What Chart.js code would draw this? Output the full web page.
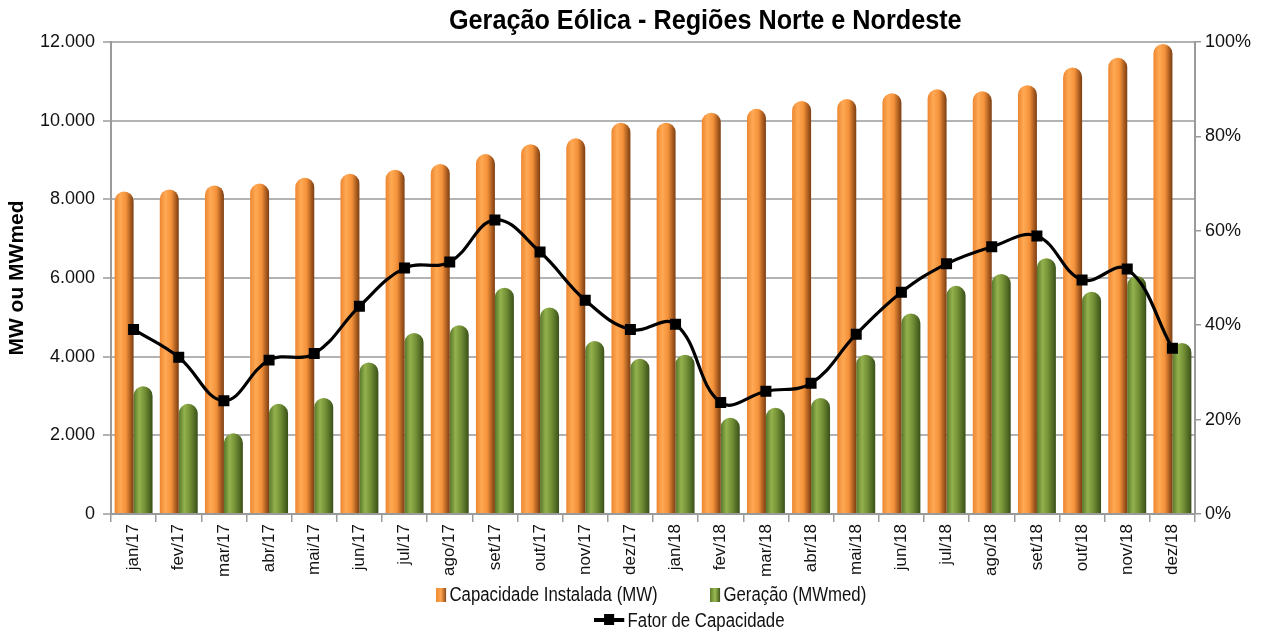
<!DOCTYPE html>
<html>
<head>
<meta charset="utf-8">
<script src="https://cdn.jsdelivr.net/npm/chart.js@4.4.1/dist/chart.umd.min.js"></script>
<style>
  body { margin: 0; background: #fff; }
  #wrap {
    position: relative; width: 1267px; height: 633px;
    font-family: "Liberation Sans Narrow", "Arial Narrow", "Liberation Sans", Arial, sans-serif;
  }
  #chart { position: absolute; left: 0; top: 0; }
  #title {
    position: absolute; left: 449px; top: 4px; white-space: nowrap;
    font-size: 28px; font-weight: bold; color: #000;
    transform: scaleX(0.9); transform-origin: left top;
  }
  .leg {
    position: absolute; font-size: 20px; color: #111; white-space: nowrap; line-height: 22px;
    transform: scaleX(0.84); transform-origin: left top;
  }
  .box { display: inline-block; width: 12px; height: 14px; vertical-align: -1px; margin-right: 4px; }
  .ln { display: inline-block; position: relative; width: 36px; height: 4px; background: #000; vertical-align: 5px; margin-right: 4px; }
  .ln i { position: absolute; left: 12px; top: -4px; width: 12px; height: 11px; background: #000; }
</style>
</head>
<body>
<div id="wrap">
  <canvas id="chart" width="1267" height="633"></canvas>
  <div id="title">Geração Eólica - Regiões Norte e Nordeste</div>
  <div class="leg" style="left:436px; top:583px;"><span class="box" style="background:linear-gradient(90deg,#f08a30,#ffa550,#8a4a18)"></span>Capacidade Instalada (MW)</div>
  <div class="leg" style="left:710px; top:583px;"><span class="box" style="background:linear-gradient(90deg,#5e7d2a,#9bbb55,#3f5519)"></span>Geração (MWmed)</div>
  <div class="leg" style="left:594px; top:609px;"><span class="ln"><i></i></span>Fator de Capacidade</div>
</div>
<script>
// meses jan/17 .. dez/18
const months = ['jan/17', 'fev/17', 'mar/17', 'abr/17', 'mai/17', 'jun/17', 'jul/17', 'ago/17',
  'set/17', 'out/17', 'nov/17', 'dez/17', 'jan/18', 'fev/18', 'mar/18', 'abr/18', 'mai/18',
  'jun/18', 'jul/18', 'ago/18', 'set/18', 'out/18', 'nov/18', 'dez/18'];

// Capacidade Instalada (MW)
const capacidade = [8200, 8250, 8350, 8400, 8550, 8650, 8750, 8900, 9150, 9400, 9550, 9950,
  9950, 10200, 10300, 10500, 10550, 10700, 10800, 10750, 10900, 11350, 11600, 11950];

// Geração (MWmed)
const geracao = [3250, 2800, 2050, 2800, 2950, 3850, 4600, 4800, 5750, 5250, 4400, 3950,
  4050, 2450, 2700, 2950, 4050, 5100, 5800, 6100, 6500, 5650, 6050, 4350];

// Fator de Capacidade (%)
const fator = [39.1, 33.2, 24.0, 32.6, 34.0, 44.0, 52.1, 53.4, 62.3, 55.5, 45.3, 39.1,
  40.2, 23.6, 26.0, 27.7, 38.1, 47.0, 53.0, 56.6, 58.9, 49.6, 51.9, 35.1];

const leftTicks = ['0', '2.000', '4.000', '6.000', '8.000', '10.000', '12.000'];
const rightTicks = ['0%', '20%', '40%', '60%', '80%', '100%'];

const CAT_PCT = 0.84;
const BAR_PCT = 1.0;
const FONT = '"Liberation Sans Narrow", "Arial Narrow", "Liberation Sans", Arial, sans-serif';

// gradiente horizontal para dar efeito de cilindro
const cylinder = (stops, dsPos) => (ctx) => {
  const chart = ctx.chart;
  const xs = chart.scales.x;
  if (!xs || ctx.dataIndex == null) return stops[1][1];
  const W = xs.width / months.length;
  const slot = W * CAT_PCT / 2;
  const w = slot * BAR_PCT;
  const cx = xs.getPixelForValue(ctx.dataIndex) - W * CAT_PCT / 2 + slot * (dsPos + 0.5);
  if (!isFinite(cx) || !isFinite(w) || w <= 0) return stops[1][1];
  const g = chart.ctx.createLinearGradient(cx - w / 2, 0, cx + w / 2, 0);
  stops.forEach(s => g.addColorStop(s[0], s[1]));
  return g;
};

const orangeStops = [[0, '#ec8630'], [0.3, '#ffa954'], [0.6, '#f4923a'], [0.85, '#a85b1f'], [1, '#7a3e12']];
const greenStops = [[0, '#58772a'], [0.3, '#93b24d'], [0.6, '#738f35'], [0.85, '#4e6823'], [1, '#3a4f18']];

new Chart(document.getElementById('chart'), {
  data: {
    labels: months,
    datasets: [
      {
        type: 'bar',
        label: 'Capacidade Instalada (MW)',
        data: capacidade,
        yAxisID: 'y',
        backgroundColor: cylinder(orangeStops, 0),
        borderRadius: { topLeft: 10, topRight: 10 },
        borderSkipped: 'bottom',
        categoryPercentage: CAT_PCT,
        barPercentage: BAR_PCT,
        order: 2,
      },
      {
        type: 'bar',
        label: 'Geração (MWmed)',
        data: geracao,
        yAxisID: 'y',
        backgroundColor: cylinder(greenStops, 1),
        borderRadius: { topLeft: 10, topRight: 10 },
        borderSkipped: 'bottom',
        categoryPercentage: CAT_PCT,
        barPercentage: BAR_PCT,
        order: 3,
      },
      {
        type: 'line',
        label: 'Fator de Capacidade',
        data: fator,
        yAxisID: 'y1',
        borderColor: '#000',
        backgroundColor: '#000',
        borderWidth: 3.2,
        tension: 0.4,
        pointStyle: 'rect',
        pointRadius: 5.5,
        pointBackgroundColor: '#000',
        order: 1,
      },
    ],
  },
  options: {
    responsive: false,
    animation: false,
    layout: { padding: { left: 0, right: 0, top: 42, bottom: 44 } },
    plugins: {
      legend: { display: false },
      title: { display: false },
      tooltip: { enabled: false },
    },
    scales: {
      x: {
        offset: true,
        grid: { display: true, drawOnChartArea: false, drawTicks: true, tickLength: 8, color: '#9a9a9a', lineWidth: 1.5 },
        border: { display: true, color: '#9a9a9a', width: 2 },
        ticks: {
          color: '#111', font: { family: FONT, size: 17 },
          maxRotation: 90, minRotation: 90, autoSkip: false, padding: 2,
        },
        afterFit: (s) => { s.height = 75; },
      },
      y: {
        position: 'left',
        min: 0, max: 12000,
        ticks: {
          stepSize: 2000, color: '#111', padding: 8,
          font: { family: FONT, size: 18 },
          callback: (v) => leftTicks[Math.round(v / 2000)],
        },
        grid: { color: '#b3b3b3', lineWidth: 2, tickLength: 8, tickColor: '#9a9a9a', tickWidth: 1.5 },
        border: { display: true, color: '#9a9a9a', width: 2 },
        title: {
          display: true, text: 'MW ou MWmed', color: '#000',
          font: { family: FONT, size: 21, weight: 'bold' }, padding: { top: 5, bottom: 0 },
        },
        afterFit: (s) => { s.width = 111; },
      },
      y1: {
        position: 'right',
        min: 0, max: 100,
        ticks: {
          stepSize: 20, color: '#111', padding: 4,
          font: { family: FONT, size: 18 },
          callback: (v) => rightTicks[Math.round(v / 20)],
        },
        grid: { drawOnChartArea: false, tickLength: 6, color: '#9a9a9a', lineWidth: 1.5 },
        border: { display: true, color: '#9a9a9a', width: 2 },
        afterFit: (s) => { s.width = 72; },
      },
    },
  },
});
</script>
</body>
</html>
